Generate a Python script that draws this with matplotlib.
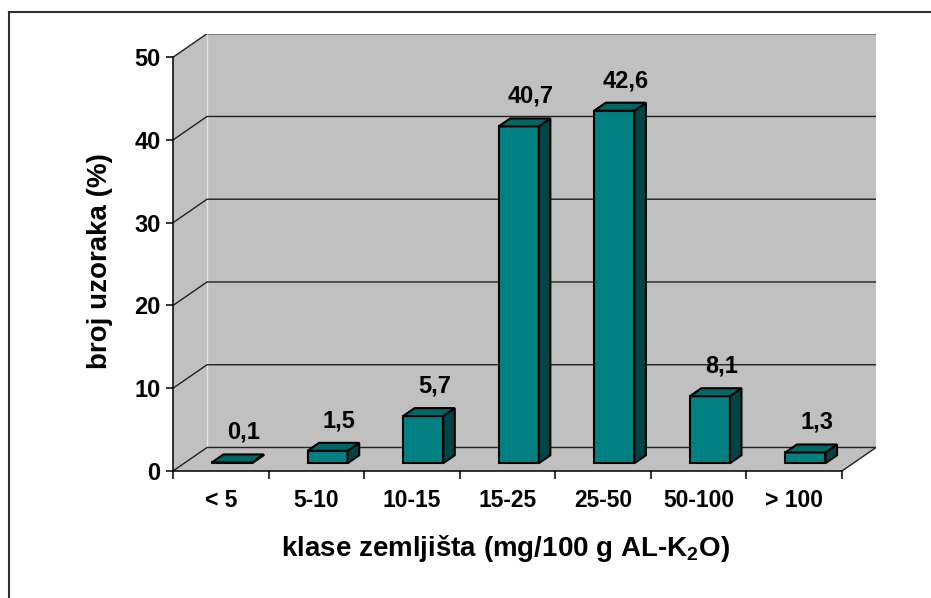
import matplotlib
matplotlib.use('Agg')
import matplotlib.pyplot as plt
from matplotlib.patches import Polygon
from matplotlib.lines import Line2D

# data
categories = ['< 5', '5-10', '10-15', '15-25', '25-50', '50-100', '> 100']
values = [0.1, 1.5, 5.7, 40.7, 42.6, 8.1, 1.3]
value_labels = ['0,1', '1,5', '5,7', '40,7', '42,6', '8,1', '1,3']
yticks = [0, 10, 20, 30, 40, 50]

plt.rcParams['font.family'] = ['Liberation Sans', 'DejaVu Sans']
plt.rcParams['font.weight'] = 'bold'
plt.rcParams['mathtext.fontset'] = 'custom'
plt.rcParams['mathtext.rm'] = 'Liberation Sans:bold'
plt.rcParams['mathtext.it'] = 'Liberation Sans:bold'
plt.rcParams['mathtext.bf'] = 'Liberation Sans:bold'

# 3d look: depth offset in data units, bar width / depth fractions
n = len(categories)
ymax = 50
dx, dy = 0.356, 2.84
bw = 0.42
d0, d1 = 0.33, 0.67

wall = '#C0C0C0'
front_c, top_c, side_c = '#008080', '#006666', '#004444'

fig = plt.figure(figsize=(9.31, 5.98), dpi=100)
ax = fig.add_axes([173 / 931, 1 - 471 / 598, 703 / 931, 437.3 / 598])
ax.set_xlim(0, n + dx)
ax.set_ylim(0, ymax + dy)
ax.patch.set_visible(False)

# walls and floor
ax.add_patch(Polygon([(dx, dy), (n + dx, dy), (n + dx, ymax + dy), (dx, ymax + dy)],
                     closed=True, fc=wall, ec='none', zorder=0))
ax.add_patch(Polygon([(0, 0), (dx, dy), (dx, ymax + dy), (0, ymax)],
                     closed=True, fc=wall, ec='none', zorder=0))
ax.add_patch(Polygon([(0, 0), (n, 0), (n + dx, dy), (dx, dy)],
                     closed=True, fc=wall, ec='none', zorder=0))
ax.plot([dx, dx], [dy, ymax + dy], color='#E4E4E4', lw=1, zorder=1)

# gridlines on side wall and back wall
for v in yticks:
    ax.plot([0, dx, n + dx], [v, v + dy, v + dy], color='#202020', lw=1.0, zorder=1)
ax.plot([n, n + dx], [0, dy], color='#202020', lw=1.0, zorder=1)

# bars
for i, v in enumerate(values):
    x0 = i + 0.5 - bw / 2 + d0 * dx
    x1 = x0 + bw
    yb = d0 * dy
    ex, ey = (d1 - d0) * dx, (d1 - d0) * dy
    front = [(x0, yb), (x1, yb), (x1, yb + v), (x0, yb + v)]
    top = [(x0, yb + v), (x1, yb + v), (x1 + ex, yb + v + ey), (x0 + ex, yb + v + ey)]
    side = [(x1, yb), (x1 + ex, yb + ey), (x1 + ex, yb + v + ey), (x1, yb + v)]
    for pts, c in [(front, front_c), (side, side_c), (top, top_c)]:
        ax.add_patch(Polygon(pts, closed=True, fc=c, ec='black', lw=1.5,
                             joinstyle='miter', zorder=3))
    ax.annotate(value_labels[i], (i + 0.5 + d1 * dx, v + d1 * dy), xytext=(0, 22),
                textcoords='offset pixels', ha='center', va='center',
                fontsize=17, fontweight='bold', zorder=4)

# axes
for s in ['top', 'right']:
    ax.spines[s].set_visible(False)
ax.spines['left'].set_bounds(0, ymax)
ax.spines['bottom'].set_bounds(0, n)
ax.spines['left'].set_linewidth(1.1)
ax.spines['bottom'].set_linewidth(1.1)
ax.set_yticks(yticks)
ax.set_yticklabels([str(t) for t in yticks], fontsize=17, fontweight='bold')
ax.tick_params(axis='y', length=5, width=1.1, pad=4)
ax.set_xticks(range(n + 1))
ax.set_xticklabels([])
ax.set_xticks([i + 0.5 for i in range(n)], minor=True)
ax.set_xticklabels(categories, minor=True, fontsize=16.5, fontweight='bold')
ax.tick_params(axis='x', which='major', length=6, width=1.1)
ax.tick_params(axis='x', which='minor', length=0, pad=13)

fig.text(505 / 931, 1 - 549 / 598, 'klase zemljišta (mg/100 g AL-K$_2$O)',
         ha='center', va='center', fontsize=20, fontweight='bold')
fig.text(100 / 931, 1 - 261 / 598, 'broj uzoraka (%)', rotation=90,
         ha='center', va='center', fontsize=20, fontweight='bold')

# outer frame (only left and top edges visible)
fig.add_artist(Line2D([9 / 931, 9 / 931], [0, 1 - 12 / 598], color='#303030', lw=1.5))
fig.add_artist(Line2D([9 / 931, 1], [1 - 12 / 598, 1 - 12 / 598], color='#303030', lw=1.5))

fig.savefig('out.png', dpi=100)
